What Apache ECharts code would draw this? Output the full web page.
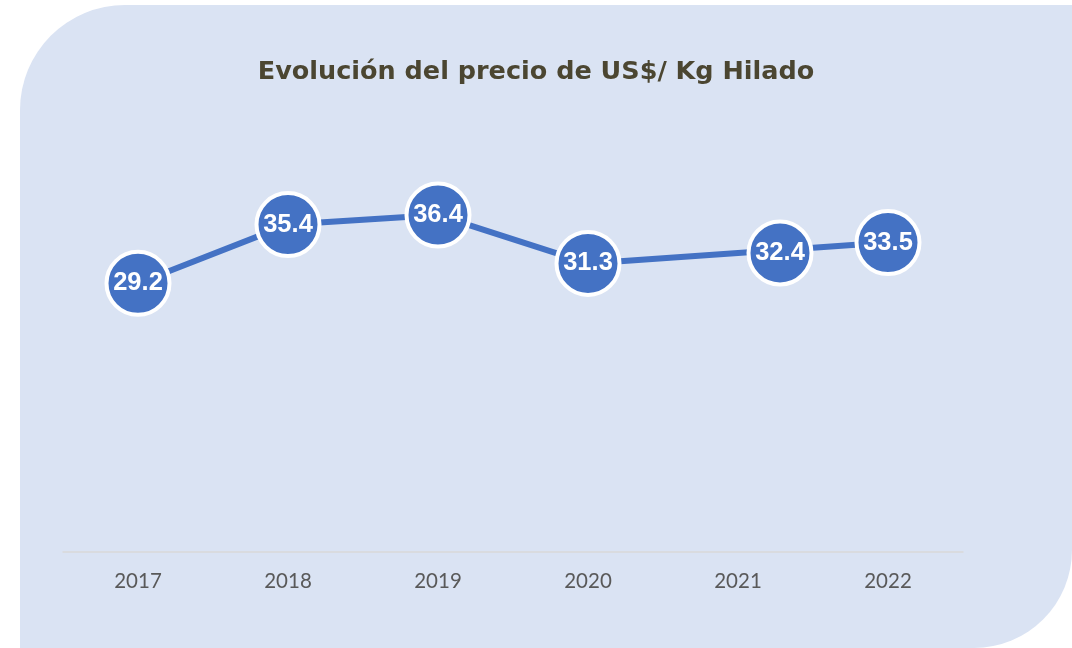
<!DOCTYPE html>
<html>
<head>
<meta charset="utf-8">
<script src="https://cdn.jsdelivr.net/npm/echarts@6/dist/echarts.min.js"></script>
<style>
  html, body { margin: 0; padding: 0; background: #ffffff; }
  #chart { width: 1072px; height: 648px; }
</style>
</head>
<body>
<div id="chart"></div>
<script>
const titleText = 'Evolución del precio de US$/ Kg Hilado';
const years = ['2017', '2018', '2019', '2020', '2021', '2022'];
const prices = [29.2, 35.4, 36.4, 31.3, 32.4, 33.5];

const BLUE = '#4472c4';
const chart = echarts.init(document.getElementById('chart'), null, { renderer: 'canvas' });

const seriesData = prices.map(function (v, i) {
  const item = { value: v };
  // label bubble for 2021 was moved right in the original chart
  if (years[i] === '2021') { item.symbolOffset = [42, 0]; }
  return item;
});

chart.setOption({
  backgroundColor: '#ffffff',
  animation: false,
  graphic: [{
    type: 'rect',
    z: -10,
    silent: true,
    shape: { x: 20, y: 5, width: 1052, height: 643, r: [105, 0, 98, 0] },
    style: { fill: '#dae3f3' }
  }],
  title: {
    text: titleText,
    left: 'center',
    top: 54,
    textStyle: {
      fontFamily: 'DejaVu Sans',
      fontWeight: 'bold',
      fontSize: 25.5,
      color: '#4b4631'
    }
  },
  grid: { left: 63, right: 109, top: 181, bottom: 88, containLabel: false },
  xAxis: {
    type: 'category',
    data: years,
    boundaryGap: true,
    offset: -8,
    axisLine: { show: true, lineStyle: { color: '#d9d9d9', width: 1.5 } },
    axisTick: { show: false },
    axisLabel: { color: '#595959', fontFamily: 'Lato', fontSize: 20.5, margin: 19 },
    splitLine: { show: false }
  },
  yAxis: {
    type: 'value',
    min: 0,
    max: 40,
    show: false,
    splitLine: { show: false }
  },
  series: [{
    type: 'line',
    data: seriesData,
    symbol: 'circle',
    symbolSize: 63,
    lineStyle: { color: BLUE, width: 6 },
    itemStyle: { color: BLUE, borderColor: '#ffffff', borderWidth: 4 },
    label: {
      show: true,
      position: 'inside',
      color: '#ffffff',
      fontFamily: 'Liberation Sans',
      fontWeight: 'bold',
      fontSize: 25.5
    },
    emphasis: { disabled: true },
    z: 5
  }]
});
</script>
</body>
</html>
